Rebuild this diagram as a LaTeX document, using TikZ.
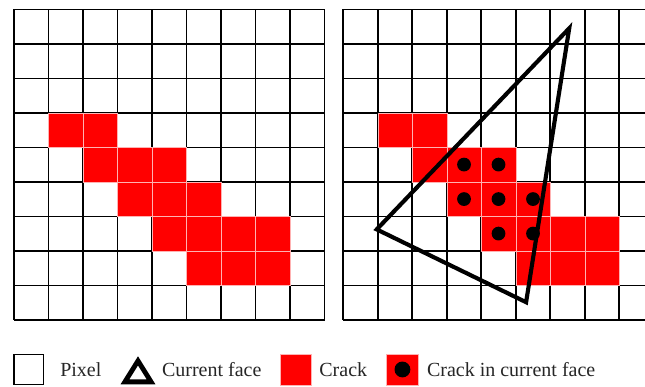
\documentclass[tikz,border=0pt]{standalone}
\usepackage{fontspec}
\setmainfont{Liberation Serif}
\definecolor{crackred}{RGB}{255,0,0}

\tikzset{
  pixelgrid/.style={draw=black, line width=1.3pt},
  crackcell/.style={fill=crackred, draw=crackred!30!white, line width=0.4pt},
  crackdot/.style={fill=black},
  faceline/.style={draw=black, line width=3.4pt, line join=miter},
  legendtext/.style={font=\fontsize{16.5}{19}\selectfont, text=black!85, inner sep=0pt, anchor=base west}
}

\newcommand{\crackcells}{%
  \foreach \c/\r in {1/3,2/3,2/4,3/4,4/4,3/5,4/5,5/5,4/6,5/6,6/6,7/6,5/7,6/7,7/7}
    \draw[crackcell] (\c,\r) rectangle ++(1,1);}

\begin{document}
\begin{tikzpicture}
  \useasboundingbox (0,0) rectangle (18.696,-11.217);
  \clip (0,0) rectangle (18.696,-11.217);
  % left image: pixels and crack
  \begin{scope}[shift={(0.41,-0.27)}, yscale=-1]
    \draw[pixelgrid] (0,0) grid (9,9);
    \crackcells
  \end{scope}
  % right image: same crack with the current face on top
  \begin{scope}[shift={(9.95,-0.27)}, yscale=-1]
    \draw[pixelgrid] (0,0) grid (9,9);
    \crackcells
    \foreach \c/\r in {3/4,4/4,3/5,4/5,5/5,4/6,5/6}
      \fill[crackdot] (\c+0.5,\r+0.5) circle (0.2);
    \draw[faceline] (6.55,0.55) -- (0.97,6.38) -- (5.30,8.49) -- cycle;
  \end{scope}
  % legend
  \draw[line width=1.3pt] (0.41,-10.28) rectangle (1.26,-11.14);
  \node[legendtext] (pixeltxt) at (1.74,-10.913) {Pixel};
  \draw[faceline, line width=4pt] (4.0,-10.46) -- (3.62,-11.07) -- (4.38,-11.07) -- cycle;
  \node[legendtext] (facetxt) at (4.69,-10.913) {Current face};
  \draw[crackcell] (8.12,-10.26) rectangle (9.01,-11.16);
  \node[legendtext] (cracktxt) at (9.25,-10.913) {Crack};
  \draw[crackcell] (11.21,-10.26) rectangle (12.12,-11.16);
  \fill[crackdot] (11.665,-10.71) circle (0.23);
  \node[legendtext] (facecracktxt) at (12.37,-10.913) {Crack in current face};
\end{tikzpicture}
\end{document}
